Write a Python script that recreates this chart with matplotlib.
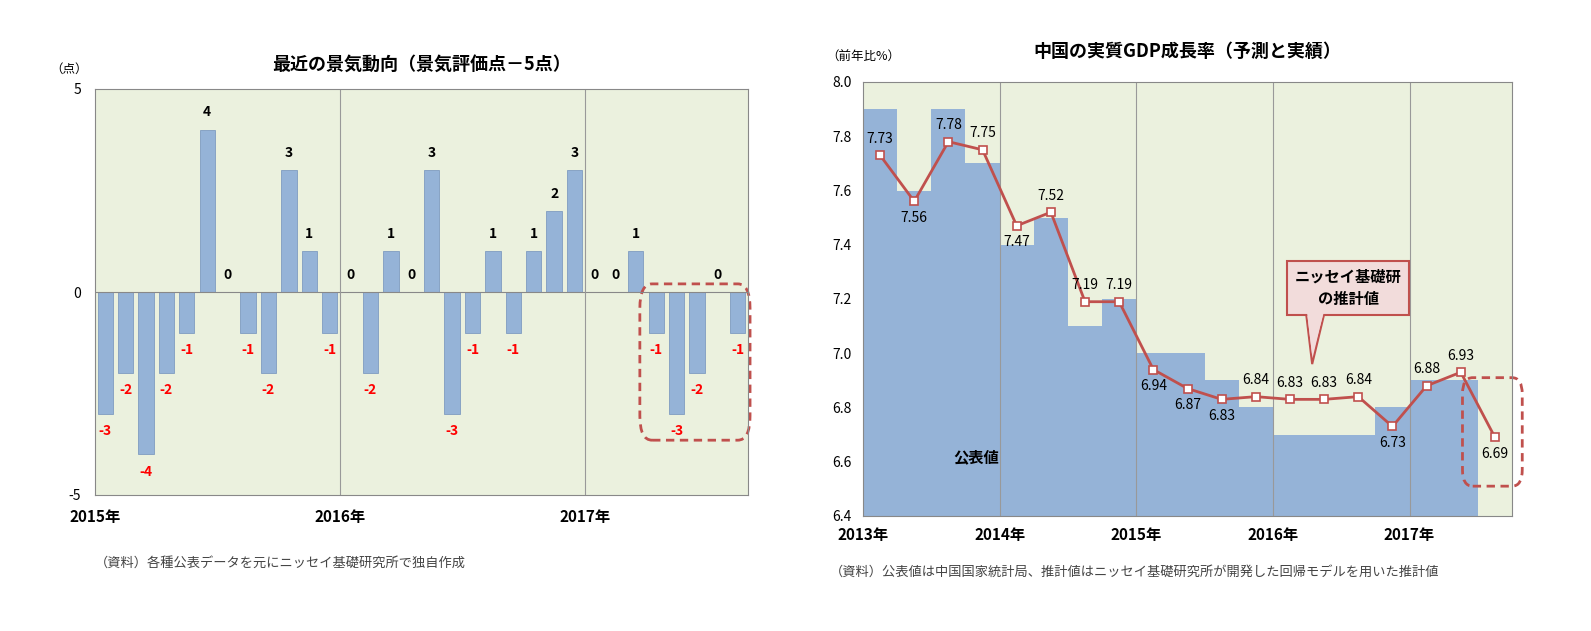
import matplotlib
matplotlib.use("Agg")
import matplotlib.pyplot as plt
from matplotlib.patches import FancyBboxPatch, Polygon
import numpy as np

plt.rcParams["font.family"] = "Noto Sans CJK JP"

# Left chart data
left_values = [-3,-2,-4,-2,-1,4,0,-1,-2,3,1,-1,
               0,-2,1,0,3,-3,-1,1,-1,1,2,3,
               0,0,1,-1,-3,-2,0,-1]
left_year_labels = ["2015年", "2016年", "2017年"]

# Right chart data
official = [7.9,7.6,7.9,7.7, 7.4,7.5,7.1,7.2, 7.0,7.0,6.9,6.8, 6.7,6.7,6.7,6.8, 6.9,6.9, 6.4]
estimate = [7.73,7.56,7.78,7.75, 7.47,7.52,7.19,7.19, 6.94,6.87,6.83,6.84, 6.83,6.83,6.84,6.73, 6.88,6.93,6.69]
est_label_pos = ["a","b","a","a","b","a","a","a","b","b","b","a","a","a","a","b","a","a","b"]
right_year_labels = ["2013年","2014年","2015年","2016年","2017年"]

BG = "#ebf1de"
BAR = "#95b3d7"
RED = "#c0504d"

fig = plt.figure(figsize=(15.91, 6.31), dpi=100)
W, H = 1591, 631
def ax_at(x0, y0, x1, y1):
    return fig.add_axes([x0/W, 1-y1/H, (x1-x0)/W, (y1-y0)/H])

# ---------- Left ----------
ax = ax_at(95, 89, 748, 495)
ax.set_facecolor(BG)
n = len(left_values)
x = np.arange(n) + 0.5
ax.bar(x, left_values, width=0.75, color=BAR, edgecolor="#7f9cc0", linewidth=0.6)
ax.set_xlim(0, n); ax.set_ylim(-5, 5)
ax.set_yticks([-5, 0, 5]); ax.set_yticklabels(["-5", "0", "5"], fontsize=10)
ax.axhline(0, color="#888888", lw=0.8)
for yr in [12, 24]:
    ax.axvline(yr, color="#999999", lw=0.8)
ax.set_xticks([0, 12, 24]); ax.set_xticklabels(left_year_labels, fontsize=11, fontweight="bold")
ax.tick_params(length=0, pad=10)
for xi, v in zip(x, left_values):
    if v < 0:
        ax.text(xi, v - 0.25, str(v), color="red", ha="center", va="top", fontsize=10, fontweight="bold")
    else:
        ax.text(xi, v + 0.25, str(v), color="black", ha="center", va="bottom", fontsize=10, fontweight="bold")
for s in ax.spines.values(): s.set_color("#888888")
ax.text(-0.04, 1.04, "（点）", transform=ax.transAxes, fontsize=9, ha="center")
ax.set_title("最近の景気動向（景気評価点－5点）", fontsize=13, fontweight="bold", pad=14)
ax.add_patch(FancyBboxPatch((26.7, -3.65), 5.4, 3.85, boxstyle="round,pad=0,rounding_size=0.6",
             fill=False, ec=RED, ls=(0, (3, 2)), lw=2, mutation_aspect=1.0, clip_on=False))
fig.text(95/W, 1-563/H, "（資料）各種公表データを元にニッセイ基礎研究所で独自作成", fontsize=9.5, color="#444444", va="center")

# ---------- Right ----------
ax2 = ax_at(863, 82, 1512, 516)
ax2.set_facecolor(BG)
m = len(official)
edges = np.arange(m + 1)
ax2.stairs(official, edges, baseline=6.4, fill=True, color=BAR)
xm = np.arange(m) + 0.5
ax2.plot(xm, estimate, color=RED, lw=2, marker="s", ms=6, mfc="white", mec=RED, mew=1.2, zorder=3)
for xi, v, p in zip(xm, estimate, est_label_pos):
    if p == "a":
        ax2.text(xi, v + 0.035, f"{v:.2f}", ha="center", va="bottom", fontsize=10)
    else:
        ax2.text(xi, v - 0.035, f"{v:.2f}", ha="center", va="top", fontsize=10)
ax2.set_xlim(0, m); ax2.set_ylim(6.4, 8.0)
ax2.set_yticks(np.arange(6.4, 8.01, 0.2))
ax2.set_yticklabels([f"{t:.1f}" for t in np.arange(6.4, 8.01, 0.2)], fontsize=10)
ax2.set_xticks([0, 4, 8, 12, 16]); ax2.set_xticklabels(right_year_labels, fontsize=11, fontweight="bold")
for yr in [4, 8, 12, 16]:
    ax2.axvline(yr, color="#999999", lw=0.8, zorder=2)
ax2.tick_params(length=0, pad=8)
for s in ax2.spines.values(): s.set_color("#888888")
ax2.text(0.0, 1.05, "（前年比%）", transform=ax2.transAxes, fontsize=9, ha="center")
ax2.set_title("中国の実質GDP成長率（予測と実績）", fontsize=13, fontweight="bold", pad=18)
ax2.text(3.3, 6.6, "公表値", fontsize=11, fontweight="bold", ha="center")
ax2.add_patch(FancyBboxPatch((17.55, 6.51), 1.75, 0.4, boxstyle="round,pad=0,rounding_size=0.3",
              fill=False, ec=RED, ls=(0, (3, 2)), lw=2, clip_on=False, mutation_aspect=0.2))
# callout pointer
ax2.add_patch(Polygon([(12.95, 7.17), (13.55, 7.17), (13.15, 6.96)], closed=True,
                      fc="#f2dcdb", ec=RED, lw=1.5, zorder=5))
ax2.text(14.2, 7.24, "ニッセイ基礎研\nの推計値", ha="center", va="center",
         fontsize=11, fontweight="bold", linespacing=1.5, zorder=6,
         bbox=dict(boxstyle="square,pad=0.5", fc="#f2dcdb", ec=RED, lw=1.5))
ax2.add_patch(Polygon([(12.99, 7.16), (13.51, 7.16), (13.15, 6.99)], closed=True,
                      fc="#f2dcdb", ec="none", zorder=7))
fig.text(830/W, 1-572/H, "（資料）公表値は中国国家統計局、推計値はニッセイ基礎研究所が開発した回帰モデルを用いた推計値",
         fontsize=9.5, color="#444444", va="center")

fig.savefig("out.png", dpi=100, facecolor="white")
